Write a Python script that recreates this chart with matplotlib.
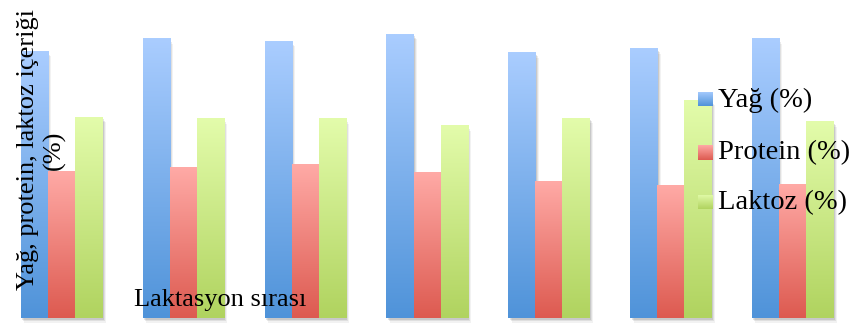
import numpy as np
import matplotlib.pyplot as plt
from matplotlib.colors import LinearSegmentedColormap
from matplotlib.patches import Rectangle

# Lactation order groups and mean milk composition (%)
lactation = [1, 2, 3, 4, 5, 6, 7]
fat = [6.14, 6.42, 6.37, 6.53, 6.10, 6.19, 6.42]
protein = [3.38, 3.47, 3.52, 3.34, 3.15, 3.04, 3.06]
lactose = [4.62, 4.58, 4.58, 4.42, 4.60, 5.01, 4.51]
labels = ['Yağ (%)', 'Protein (%)', 'Laktoz (%)']

# bottom -> top gradient colours for each series
grads = [('#4f93d9', '#aacdff'), ('#dd5a50', '#ffaaa6'), ('#b0d35f', '#e3fcab')]

plt.rcParams['font.family'] = ['Liberation Serif', 'DejaVu Serif']

fig = plt.figure(figsize=(8.56, 3.24), dpi=100)
ax = fig.add_axes([0, 6 / 324, 1, 318 / 324])
ax.set_xlim(-0.505, 6.521)
ax.set_ylim(0, 7.314)
ax.axis('off')

grad = np.linspace(0, 1, 256).reshape(-1, 1)
w = 0.222
x = np.arange(len(lactation))
for j, vals in enumerate([fat, protein, lactose]):
    cmap = LinearSegmentedColormap.from_list('g%d' % j, grads[j])
    for i, v in enumerate(vals):
        x0 = x[i] + (j - 1.5) * w
        # soft drop shadow
        for k, a in enumerate([0.10, 0.08, 0.05]):
            dx = 0.012 + k * 0.008
            dy = 0.05 + k * 0.03
            ax.add_patch(Rectangle((x0 + dx, -dy), w, v, color='#000000',
                                   alpha=a, lw=0, zorder=1, clip_on=False))
        ax.imshow(grad, extent=[x0, x0 + w, 0, v], origin='lower',
                  aspect='auto', cmap=cmap, zorder=2, interpolation='bilinear')

# legend with gradient swatches
rows = [99, 152, 202]
for j, yc in enumerate(rows):
    cmap = LinearSegmentedColormap.from_list('l%d' % j, grads[j])
    sw = fig.add_axes([698 / 856, 1 - (yc + 7.5) / 324, 15 / 856, 15 / 324])
    sw.imshow(grad, origin='lower', aspect='auto', cmap=cmap)
    sw.axis('off')
    fig.text(718 / 856, 1 - (yc + 1) / 324, labels[j], fontsize=20.5,
             ha='left', va='center', color='black')

fig.text(41.5 / 856, 1 - 150 / 324, 'Yağ, protein, laktoz içeriği\n(%)',
         rotation=90, ha='center', va='center', multialignment='center',
         fontsize=19, linespacing=1.2)
fig.text(220 / 856, 1 - 300 / 324, 'Laktasyon sırası', ha='center',
         va='center', fontsize=19)

fig.savefig('out.png', dpi=100)
